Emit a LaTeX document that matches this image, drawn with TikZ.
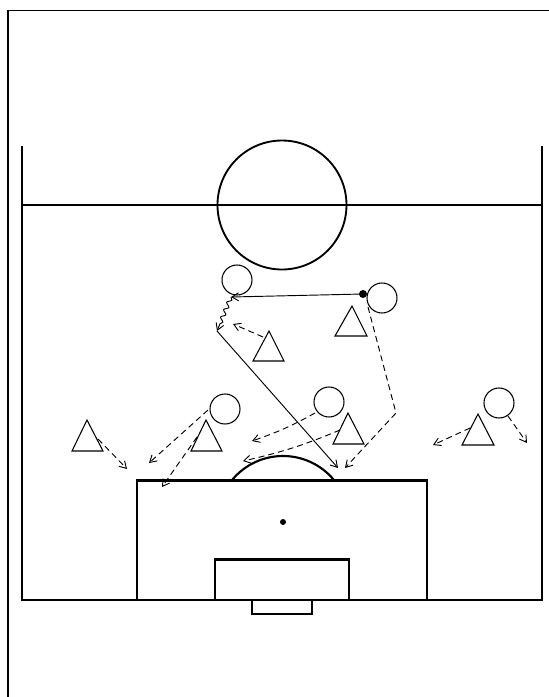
\documentclass[tikz,border=0pt]{standalone}
\usetikzlibrary{arrows.meta,decorations.pathmorphing}
\begin{document}
\begin{tikzpicture}[x=0.75pt,y=-0.75pt,
  fieldline/.style={line width=1.6pt,line cap=rect},
  player/.style={circle,draw,line width=0.8pt,minimum size=22.5pt,inner sep=0pt},
  opp/.style={draw,line width=0.8pt,line join=miter},
  passarrow/.style={line width=0.7pt,-{Straight Barb[length=5pt,width=6pt]}},
  runarrow/.style={line width=0.7pt,dash pattern=on 4.5pt off 3pt,-{Straight Barb[length=5pt,width=6pt]}},
  dribble/.style={line width=0.7pt,decorate,decoration={snake,amplitude=1.5pt,segment length=6pt,post length=5pt},-{Straight Barb[length=5pt,width=6pt]}}]
\useasboundingbox (0,0) rectangle (549,697);
% frame
\draw[line width=1pt] (8,697) -- (8,10.5) -- (549,10.5);
% pitch
\draw[fieldline] (22,147) -- (22,600) -- (542,600) -- (542,147);
\draw[fieldline] (22,205) -- (542,205);
\draw[line width=1.4pt] (282,205) circle[radius=64.5];
\draw[fieldline] (137,600) -- (137,480.5) -- (427,480.5) -- (427,600);
\draw[fieldline] (215,600) -- (215,559.5) -- (349,559.5) -- (349,600);
\draw[line width=1.4pt] (252,600) -- (252,614) -- (312,614) -- (312,600);
\fill (283,522) circle[radius=3];
\begin{scope}
\clip (150,380) rectangle (420,480);
\draw[line width=1.6pt] (283,522) circle[radius=66];
\end{scope}
% players (circles)
\node[player] (A) at (237,280) {};
\node[player] (B) at (382,298) {};
\node[player] (C) at (225,409) {};
\node[player] (D) at (329,402) {};
\node[player] (E) at (499,403) {};
\fill (363,294) circle[radius=4];
\coordinate (ball) at (363,294);
% opponents (triangles)
\draw[opp] (269,331) -- (284,361) -- (253,361) -- cycle;
\draw[opp] (352,306) -- (367,336) -- (335,336) -- cycle;
\draw[opp] (87,420) -- (103,451) -- (72,451) -- cycle;
\draw[opp] (206,420) -- (222,451) -- (191,451) -- cycle;
\draw[opp] (348,413) -- (364,444) -- (333,444) -- cycle;
\draw[opp] (478,414) -- (494,445) -- (462,445) -- cycle;
% key points
\coordinate (Aout) at (231,297);
\coordinate (drib) at (217,331);
\coordinate (shot) at (338,468);
\coordinate (Bturn) at (396,413);
\coordinate (Bend) at (345,468);
\coordinate (T1s) at (263,337);
\coordinate (T1e) at (233,324);
\coordinate (Ds) at (315,413);
\coordinate (De) at (252,441);
\coordinate (T5s) at (340,430);
\coordinate (T5e) at (243,461);
\coordinate (T3s) at (98,439);
\coordinate (T3e) at (127,469);
\coordinate (Cs) at (208,410);
\coordinate (Ce) at (149,463);
\coordinate (T4s) at (197,437);
\coordinate (T4e) at (162,487);
\coordinate (T6s) at (470,428);
\coordinate (T6e) at (433,445);
\coordinate (Es) at (508,416);
\coordinate (Ee) at (527,443);
\coordinate (Bs) at (368,307);
% connectors
\draw[passarrow] (ball) -- (Aout);
\draw[dribble] (Aout) -- (drib);
\draw[passarrow] (drib) -- (shot);
\draw[runarrow] (Bs) -- (Bturn) -- (Bend);
\draw[runarrow] (T1s) -- (T1e);
\draw[runarrow] (Ds) to[bend left=5] (De);
\draw[runarrow] (T5s) to[bend left=5] (T5e);
\draw[runarrow] (T3s) -- (T3e);
\draw[runarrow] (Cs) -- (Ce);
\draw[runarrow] (T4s) -- (T4e);
\draw[runarrow] (T6s) -- (T6e);
\draw[runarrow] (Es) -- (Ee);
\end{tikzpicture}
\end{document}
